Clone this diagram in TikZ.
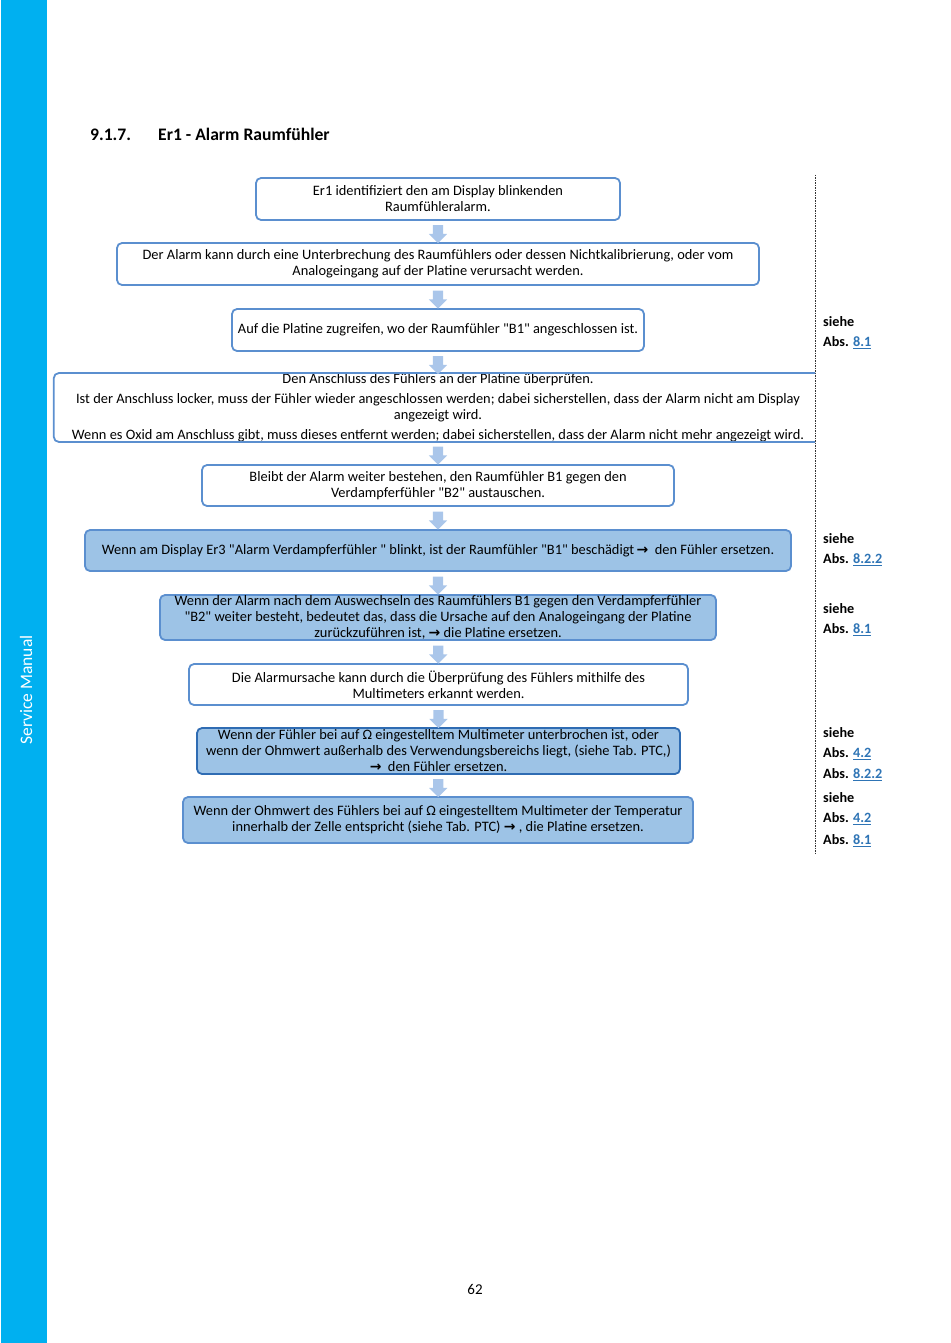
\documentclass[tikz,border=0pt]{standalone}
\usepackage{fontspec}
\setmainfont{Carlito}[Ligatures=TeXOff]
\newfontfamily\symf{DejaVu Sans}
\usetikzlibrary{shapes.arrows}
\definecolor{barc}{HTML}{00B0F0}
\definecolor{linec}{HTML}{5B8FCF}
\definecolor{darkline}{HTML}{2F6CB3}
\definecolor{fillc}{HTML}{9DC3E6}
\definecolor{arrc}{HTML}{AAC6EA}
\definecolor{linkc}{HTML}{2E74B5}
\newcommand{\ar}{{\symf\bfseries\fontsize{14}{14}\selectfont →}}
\begin{document}
\begin{tikzpicture}[x=1pt,y=-1pt,
  txt/.style={font=\fontsize{14.4}{16}\selectfont, align=center, inner sep=0pt},
  wbox/.style={txt, draw=linec, line width=1.8pt, rounded corners=5pt, fill=white},
  bbox/.style={txt, draw=linec, line width=1.8pt, rounded corners=5pt, fill=fillc},
  downarr/.style={single arrow, shape border rotate=270, fill=arrc, draw=none,
    minimum height=18pt, inner sep=5pt, single arrow head extend=4pt},
  lab/.style={font=\fontsize{14.2}{16}\selectfont\bfseries, anchor=west, inner sep=0pt}]
\useasboundingbox (0,0) rectangle (950,1343);
\fill[barc] (1,0) rectangle (47,1343);
\node[rotate=90, text=white, font=\fontsize{17.5}{20}\selectfont] (sm) at (26,690) {Service Manual};
\node[font=\fontsize{17.6}{19}\selectfont\bfseries, anchor=base west, inner sep=0pt] (tn) at (90,141) {9.1.7.};
\node[font=\fontsize{17.6}{19}\selectfont\bfseries, anchor=base west, inner sep=0pt] (tt) at (158,141) {Er1 - Alarm Raumfühler};
\draw[black!80, line width=0.8pt, dash pattern=on 1.5pt off 1pt] (815,175) -- (815,855);

\node[wbox, minimum width=364pt, minimum height=42pt] (b1) at (438,199) {Er1 identifiziert den am Display blinkenden\\Raumfühleralarm.};
\node[wbox, minimum width=642pt, minimum height=42pt] (b2) at (438,264) {Der Alarm kann durch eine Unterbrechung des Raumfühlers oder dessen Nichtkalibrierung, oder vom\\Analogeingang auf der Platine verursacht werden.};
\node[wbox, minimum width=412pt, minimum height=42pt] (b3) at (438,330) {Auf die Platine zugreifen, wo der Raumfühler "B1" angeschlossen ist.};
\node[txt, minimum width=768pt, minimum height=67pt] (b4) at (438,407.5) {Den Anschluss des Fühlers an der Platine überprüfen.\\[4pt]Ist der Anschluss locker, muss der Fühler wieder angeschlossen werden; dabei sicherstellen, dass der Alarm nicht am Display\\angezeigt wird.\\[4pt]Wenn es Oxid am Anschluss gibt, muss dieses entfernt werden; dabei sicherstellen, dass der Alarm nicht mehr angezeigt wird.};
\coordinate (rx) at (815,0);
\draw[linec, line width=1.8pt, rounded corners=5pt] (b4.north west -| rx) -| (b4.south west) -- (b4.south west -| rx);
\node[wbox, minimum width=472pt, minimum height=41pt] (b5) at (438,485.5) {Bleibt der Alarm weiter bestehen, den Raumfühler B1 gegen den\\Verdampferfühler "B2" austauschen.};
\node[bbox, minimum width=706pt, minimum height=41pt] (b6) at (438,550.5) {Wenn am Display Er3 "Alarm Verdampferfühler " blinkt, ist der Raumfühler "B1" beschädigt\,\ar\ \ den Fühler ersetzen.};
\node[bbox, minimum width=556pt, minimum height=45pt] (b7) at (438,617.5) {Wenn der Alarm nach dem Auswechseln des Raumfühlers B1 gegen den Verdampferfühler\\"B2" weiter besteht, bedeutet das, dass die Ursache auf den Analogeingang der Platine\\zurückzuführen ist, \ar\ die Platine ersetzen.};
\node[wbox, minimum width=499pt, minimum height=41pt] (b8) at (438.5,684.5) {Die Alarmursache kann durch die Überprüfung des Fühlers mithilfe des\\Multimeters erkannt werden.};
\node[bbox, draw=darkline, minimum width=483pt, minimum height=46pt] (b9) at (438.5,751) {Wenn der Fühler bei auf Ω eingestelltem Multimeter unterbrochen ist, oder\\wenn der Ohmwert außerhalb des Verwendungsbereichs liegt, (siehe Tab. PTC,)\\\ar\ \ den Fühler ersetzen.};
\node[bbox, minimum width=510pt, minimum height=46pt] (b10) at (438,820) {Wenn der Ohmwert des Fühlers bei auf Ω eingestelltem Multimeter der Temperatur\\innerhalb der Zelle entspricht (siehe Tab. PTC) \ar\ , die Platine ersetzen.};

\foreach \a/\b in {b1/b2,b2/b3,b3/b4,b4/b5,b5/b6,b6/b7,b7/b8,b8/b9,b9/b10}{
  \path (\a.south) -- (\b.north) node[downarr, midway] {};
}

\node[lab] (s1) at (823,322) {siehe};
\node[lab] (s1a) at (823,343) {Abs. \textcolor{linkc}{\underline{8.1}}};
\node[lab] (s2) at (823,539) {siehe};
\node[lab] (s2a) at (823,560) {Abs. \textcolor{linkc}{\underline{8.2.2}}};
\node[lab] (s3) at (823,609) {siehe};
\node[lab] (s3a) at (823,630) {Abs. \textcolor{linkc}{\underline{8.1}}};
\node[lab] (s4) at (823,733) {siehe};
\node[lab] (s4a) at (823,754) {Abs. \textcolor{linkc}{\underline{4.2}}};
\node[lab] (s4b) at (823,775) {Abs. \textcolor{linkc}{\underline{8.2.2}}};
\node[lab] (s5) at (823,798) {siehe};
\node[lab] (s5a) at (823,819) {Abs. \textcolor{linkc}{\underline{4.2}}};
\node[lab] (s5b) at (823,841) {Abs. \textcolor{linkc}{\underline{8.1}}};

\node[font=\fontsize{15}{18}\selectfont] (pg) at (475,1289) {62};
\end{tikzpicture}
\end{document}
